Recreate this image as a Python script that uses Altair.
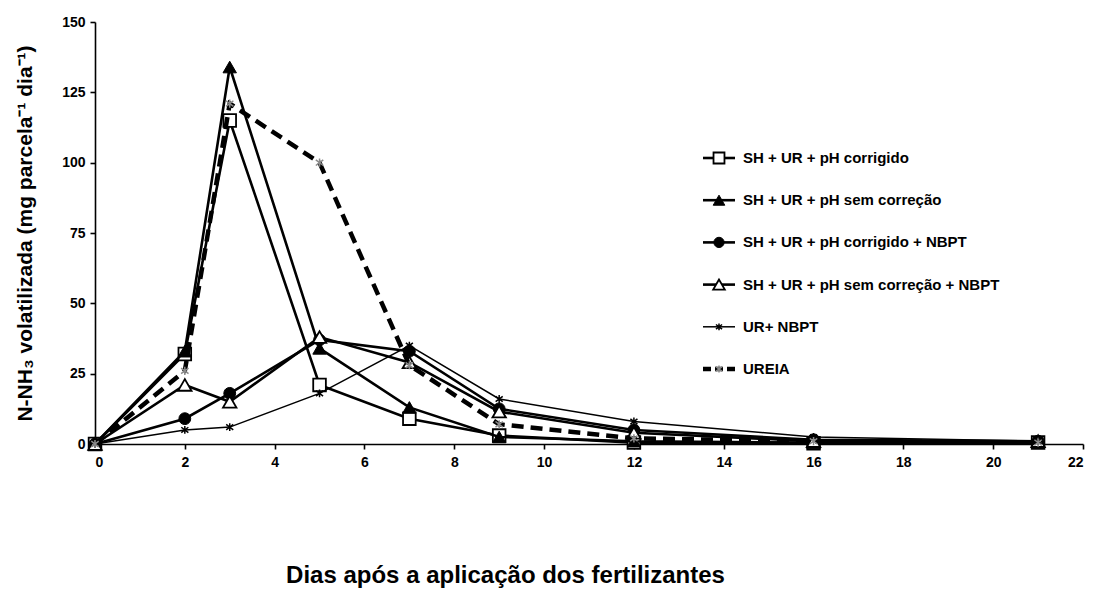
import altair as alt
import pandas as pd

# Sampling days (days after fertilizer application)
days = [0, 2, 3, 5, 7, 9, 12, 16, 21]

# Daily N-NH3 volatilized per treatment (mg parcela-1 dia-1)
sh_ur_ph_corrigido = [0, 32, 115, 21, 9, 3, 0.5, 0.3, 0.5]
sh_ur_ph_sem_correcao = [0, 33, 134, 34, 13, 2.5, 1, 0.5, 1]
sh_ur_ph_corrigido_nbpt = [0, 9, 18, 37, 33, 12.5, 5, 1.5, 1]
sh_ur_ph_sem_correcao_nbpt = [0, 21, 15, 38, 29, 11.5, 4, 1, 1]
ur_nbpt = [0, 5, 6, 18, 35, 16, 8, 2.5, 1]
ureia = [0, 26, 121, 100, 28, 7, 2, 1, 0.5]

series_names = [
    "SH + UR + pH corrigido",
    "SH + UR + pH sem correção",
    "SH + UR + pH corrigido + NBPT",
    "SH + UR + pH sem correção + NBPT",
    "UR+ NBPT",
    "UREIA",
]
series_values = [
    sh_ur_ph_corrigido,
    sh_ur_ph_sem_correcao,
    sh_ur_ph_corrigido_nbpt,
    sh_ur_ph_sem_correcao_nbpt,
    ur_nbpt,
    ureia,
]

x_ticks = list(range(0, 23, 2))
y_ticks = list(range(0, 151, 25))

rows = []
for name, vals in zip(series_names, series_values):
    for d, v in zip(days, vals):
        rows.append({"dia": d, "valor": v, "serie": name})
df = pd.DataFrame(rows)

FONT = "Liberation Sans"
ASTERISK = "M0,-0.55L0,0.55M-0.5,-0.38L0.5,0.38M-0.5,0.38L0.5,-0.38"

# Line and marker styling for each treatment
styles = {
    "SH + UR + pH corrigido": dict(width=2.6, dash=None, shape="square", fill="white", stroke="black", msize=160, mstroke=1.8),
    "SH + UR + pH sem correção": dict(width=2.6, dash=None, shape="triangle-up", fill="black", stroke="black", msize=180, mstroke=1),
    "SH + UR + pH corrigido + NBPT": dict(width=2.6, dash=None, shape="circle", fill="black", stroke="black", msize=140, mstroke=1),
    "SH + UR + pH sem correção + NBPT": dict(width=2.6, dash=None, shape="triangle-up", fill="white", stroke="black", msize=180, mstroke=1.8),
    "UR+ NBPT": dict(width=1.5, dash=None, shape=ASTERISK, fill=None, stroke="black", msize=200, mstroke=1.5),
    "UREIA": dict(width=4.5, dash=[12, 7], shape=ASTERISK, fill=None, stroke="#8a8a8a", msize=220, mstroke=1.5),
}

x_enc = alt.X(
    "dia:Q",
    scale=alt.Scale(domain=[0, 22], nice=False, zero=True),
    axis=alt.Axis(
        values=x_ticks,
        title="Dias após a aplicação dos fertilizantes",
        titlePadding=94,
        titleX=410,
        titleAlign="center",
        titleFontSize=24,
        labelPadding=6,
    ),
)
y_enc = alt.Y(
    "valor:Q",
    scale=alt.Scale(domain=[0, 150], nice=False),
    axis=alt.Axis(
        values=y_ticks,
        title="N-NH₃ volatilizada (mg parcela⁻¹ dia⁻¹)",
        titlePadding=26,
        labelPadding=5,
    ),
)

layers = []
for name in series_names:
    st = styles[name]
    sub = alt.Chart(df).transform_filter(alt.datum.serie == name)
    line_kw = dict(color="black", strokeWidth=st["width"])
    if st["dash"]:
        line_kw["strokeDash"] = st["dash"]
    layers.append(sub.mark_line(**line_kw).encode(x=x_enc, y=y_enc))
    pt_kw = dict(shape=st["shape"], size=st["msize"], stroke=st["stroke"],
                 strokeWidth=st["mstroke"], opacity=1)
    if st["fill"] is None:
        pt_kw["filled"] = False
    else:
        pt_kw["filled"] = True
        pt_kw["fill"] = st["fill"]
    layers.append(sub.mark_point(**pt_kw).encode(x=x_enc, y=y_enc))

# Legend drawn as line sample + marker + label for each treatment
leg_top, leg_step = 136, 42.2
leg_x0, leg_x1, leg_text = 608, 640, 648
for i, name in enumerate(series_names):
    st = styles[name]
    ly = leg_top + i * leg_step
    one = alt.Chart(pd.DataFrame({"serie": [name]}))
    rule_kw = dict(color="black", strokeWidth=st["width"])
    if st["dash"]:
        rule_kw["strokeDash"] = [8, 4]
    layers.append(one.mark_rule(**rule_kw).encode(
        x=alt.value(leg_x0), x2=alt.value(leg_x1), y=alt.value(ly)))
    pt_kw = dict(shape=st["shape"], size=st["msize"] * 0.75, stroke=st["stroke"],
                 strokeWidth=st["mstroke"], opacity=1)
    if st["fill"] is None:
        pt_kw["filled"] = False
    else:
        pt_kw["filled"] = True
        pt_kw["fill"] = st["fill"]
    layers.append(one.mark_point(**pt_kw).encode(
        x=alt.value((leg_x0 + leg_x1) / 2), y=alt.value(ly)))
    layers.append(one.mark_text(
        align="left", baseline="middle", font=FONT, fontSize=15,
        fontWeight="bold", color="black",
    ).encode(x=alt.value(leg_text), y=alt.value(ly), text="serie:N"))

chart = (
    alt.layer(*layers)
    .properties(
        width=988,
        height=422,
        autosize=alt.AutoSizeParams(type="none"),
        padding={"left": 95, "top": 22, "right": 16, "bottom": 146},
        background="white",
    )
    .configure_view(stroke=None)
    .configure_axis(
        grid=False,
        domainColor="black",
        domainWidth=1.6,
        tickColor="black",
        tickWidth=1.6,
        tickSize=5,
        labelFont=FONT,
        labelFontSize=14,
        labelFontWeight="bold",
        labelColor="black",
        titleFont=FONT,
        titleFontSize=21,
        titleFontWeight="bold",
        titleColor="black",
    )
)

chart.save("out.html", embed_options={"renderer": "svg", "actions": False})
